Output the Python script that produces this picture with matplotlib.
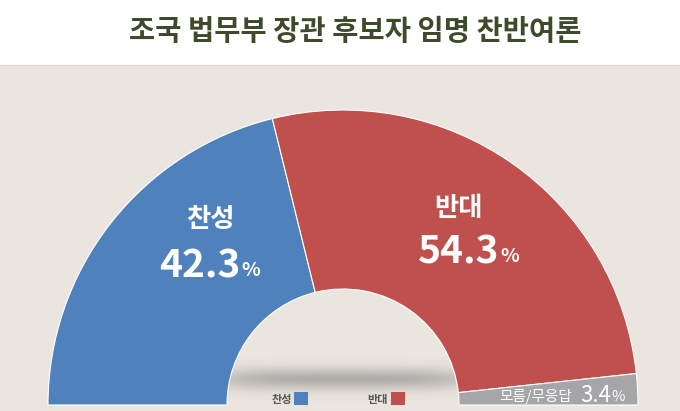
import numpy as np
import matplotlib
matplotlib.use('Agg')
import matplotlib.pyplot as plt
from matplotlib.patches import Wedge, Rectangle

plt.rcParams['font.family'] = ['Noto Sans CJK KR', 'DejaVu Sans']

title = '조국 법무부 장관 후보자 임명 찬반여론'
labels = ['찬성', '반대', '모름/무응답']
values = [42.3, 54.3, 3.4]
colors = ['#4f81bd', '#c0504d', '#a6a6a8']
bg = '#ebe5e0'

W, H = 680, 411
fig = plt.figure(figsize=(6.8, 4.11), dpi=100)
ax = fig.add_axes([0, 0, 1, 1])
ax.set_xlim(0, W)
ax.set_ylim(0, H)
ax.axis('off')

def py(y):
    # pixel row (from top) -> axes y
    return H - y

# backgrounds
ax.add_patch(Rectangle((0, 0), W, py(65), color=bg, zorder=0))
ax.plot([0, W], [py(65), py(65)], color='#e2dcd6', lw=0.8, zorder=0)

# soft shadow under the donut hole
cx, cy = 343, py(405)
R, r = 295, 116
gx = np.linspace(-200, 200, 400)
gy = np.linspace(-40, 40, 80)
GX, GY = np.meshgrid(gx, gy)
a = np.exp(-(GX / 135.0) ** 4) * np.exp(-(GY / 11.0) ** 2) * 0.42
img = np.zeros(GX.shape + (4,))
img[..., :3] = 0.38
img[..., 3] = a
ax.imshow(img, extent=(cx - 200, cx + 200, py(379) - 40, py(379) + 40),
          zorder=1, aspect='auto', interpolation='bilinear')

# half donut
total = sum(values)
start = 180.0
for v, c in zip(values, colors):
    span = 180.0 * v / total
    ax.add_patch(Wedge((cx, cy), R, start - span, start, width=R - r,
                       facecolor=c, edgecolor='white', lw=0.8, zorder=2))
    start -= span
ax.set_aspect('equal')
ax.set_xlim(0, W)
ax.set_ylim(0, H)

# title
ax.text(355, py(32), title, ha='center', va='center', fontsize=20.5,
        fontweight='black', color='#3d4b2b', zorder=5)

# labels on segments
ax.text(210, py(219), labels[0], ha='center', va='center', fontsize=19,
        fontweight='bold', color='white', zorder=5)
ax.text(240, py(266), '%.1f' % values[0], ha='right', va='center', fontsize=28,
        fontweight='bold', color='white', zorder=5)
ax.text(241, py(270), '%', ha='left', va='center', fontsize=14,
        fontweight='bold', color='white', zorder=5)

ax.text(458, py(208), labels[1], ha='center', va='center', fontsize=19,
        fontweight='bold', color='white', zorder=5)
ax.text(499, py(252), '%.1f' % values[1], ha='right', va='center', fontsize=28,
        fontweight='bold', color='white', zorder=5)
ax.text(500, py(256), '%', ha='left', va='center', fontsize=14,
        fontweight='bold', color='white', zorder=5)

ax.text(536, py(396), labels[2], ha='center', va='center', fontsize=10.5,
        color='white', zorder=5)
ax.text(611, py(395), '%.1f' % values[2], ha='right', va='center', fontsize=16,
        color='white', zorder=5)
ax.text(611, py(397), '%', ha='left', va='center', fontsize=10.5,
        color='white', zorder=5)

# legend
for name, c, tx, sx in [(labels[0], colors[0], 282, 294), (labels[1], colors[1], 377, 391)]:
    ax.text(tx, py(399), name, ha='center', va='center', fontsize=8,
            fontweight='bold', color='#555555', zorder=5)
    ax.add_patch(Rectangle((sx, py(405)), 14, 13, facecolor=c, zorder=5))

fig.savefig('out.png', dpi=100, facecolor='white')
